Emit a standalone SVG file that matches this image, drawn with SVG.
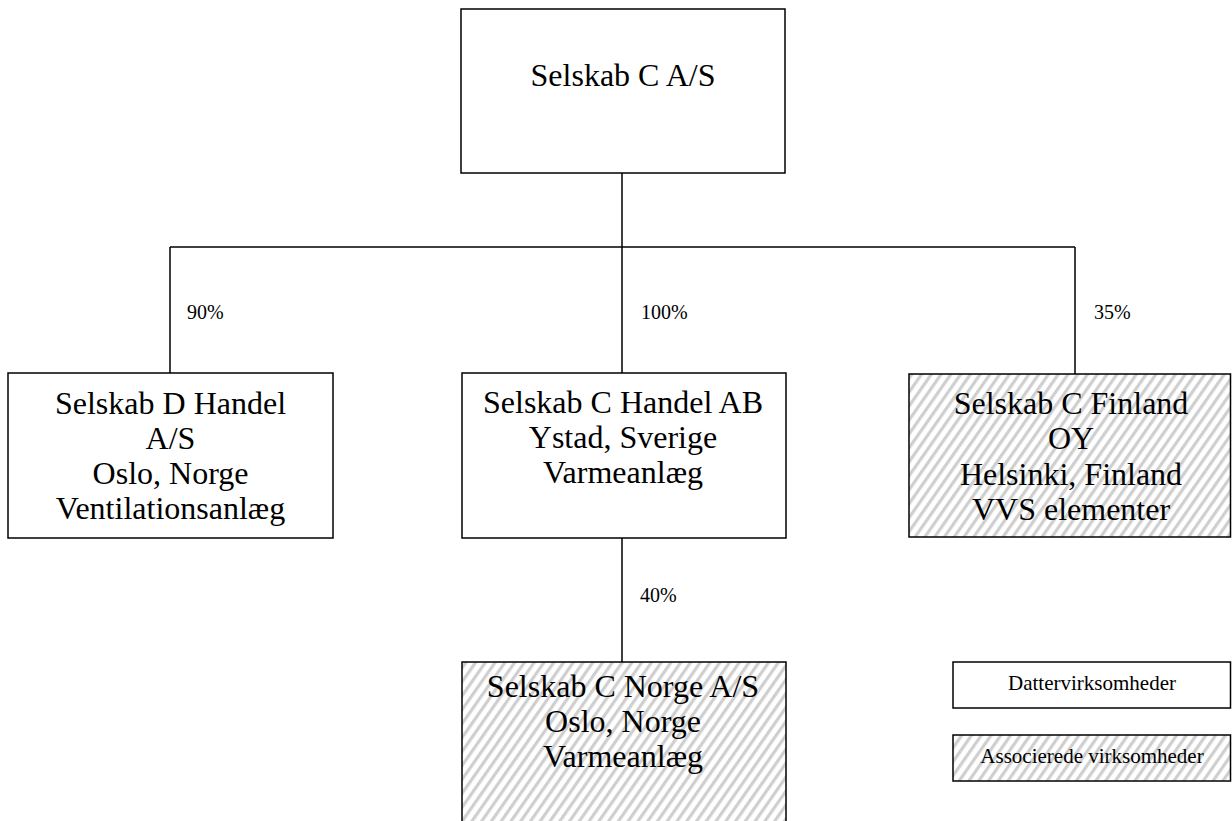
<svg xmlns="http://www.w3.org/2000/svg" width="1232" height="821" viewBox="0 0 1232 821">
<style>
.box{fill:#fff;stroke:#000;stroke-width:1.5}
.hatch{fill:url(#hatch);stroke:#000;stroke-width:1.5}
.t{font-family:"Liberation Serif","Times New Roman",serif;font-size:32px;fill:#000;text-anchor:middle}
.lg{font-family:"Liberation Serif","Times New Roman",serif;font-size:21px;fill:#000;text-anchor:middle}
.pct{font-family:"Liberation Serif","Times New Roman",serif;font-size:20px;fill:#000}
.conn{stroke:#000;stroke-width:1.5;fill:none}
</style>
<defs>
<pattern id="hatch" patternUnits="userSpaceOnUse" width="8" height="8" patternTransform="rotate(35)">
<rect x="0" y="0" width="8" height="8" fill="#fff"/>
<rect x="0" y="0" width="3.2" height="8" fill="#cfcfcf"/>
</pattern>
</defs>
<rect width="1232" height="821" fill="#fff"/>
<g id="connectors">
<path class="conn" d="M622 173 V247 M170 247 H1075 M170 247 V373 M622 247 V373 M1075 247 V374 M622 538 V662"/>
<text class="pct" x="187" y="319">90%</text>
<text class="pct" x="641" y="319">100%</text>
<text class="pct" x="1094" y="319">35%</text>
<text class="pct" x="640" y="602">40%</text>
</g>
<g id="node-c-as">
<rect class="box" x="461" y="9" width="324" height="164"/>
<text class="t" x="623" y="86">Selskab C A/S</text>
</g>
<g id="node-d-handel">
<rect class="box" x="8" y="373" width="325" height="165"/>
<text class="t" x="170.5" y="414">Selskab D Handel</text>
<text class="t" x="170.5" y="449">A/S</text>
<text class="t" x="170.5" y="484">Oslo, Norge</text>
<text class="t" x="170.5" y="519">Ventilationsanlæg</text>
</g>
<g id="node-c-handel-ab">
<rect class="box" x="462" y="373" width="324" height="165"/>
<text class="t" x="623" y="413">Selskab C Handel AB</text>
<text class="t" x="623" y="448">Ystad, Sverige</text>
<text class="t" x="623" y="483">Varmeanlæg</text>
</g>
<g id="node-c-finland">
<rect class="hatch" x="909" y="374" width="321.5" height="163"/>
<text class="t" x="1071" y="414">Selskab C Finland</text>
<text class="t" x="1071" y="449">OY</text>
<text class="t" x="1071" y="485">Helsinki, Finland</text>
<text class="t" x="1071" y="520">VVS elementer</text>
</g>
<g id="node-c-norge">
<rect class="hatch" x="462" y="662" width="324" height="175"/>
<text class="t" x="623" y="697">Selskab C Norge A/S</text>
<text class="t" x="623" y="732">Oslo, Norge</text>
<text class="t" x="623" y="767">Varmeanlæg</text>
</g>
<g id="legend-datter">
<rect class="box" x="953" y="662" width="277.5" height="46"/>
<text class="lg" x="1092" y="690">Dattervirksomheder</text>
</g>
<g id="legend-assoc">
<rect class="hatch" x="953" y="735" width="277.5" height="46"/>
<text class="lg" x="1092" y="763">Associerede virksomheder</text>
</g>
</svg>
